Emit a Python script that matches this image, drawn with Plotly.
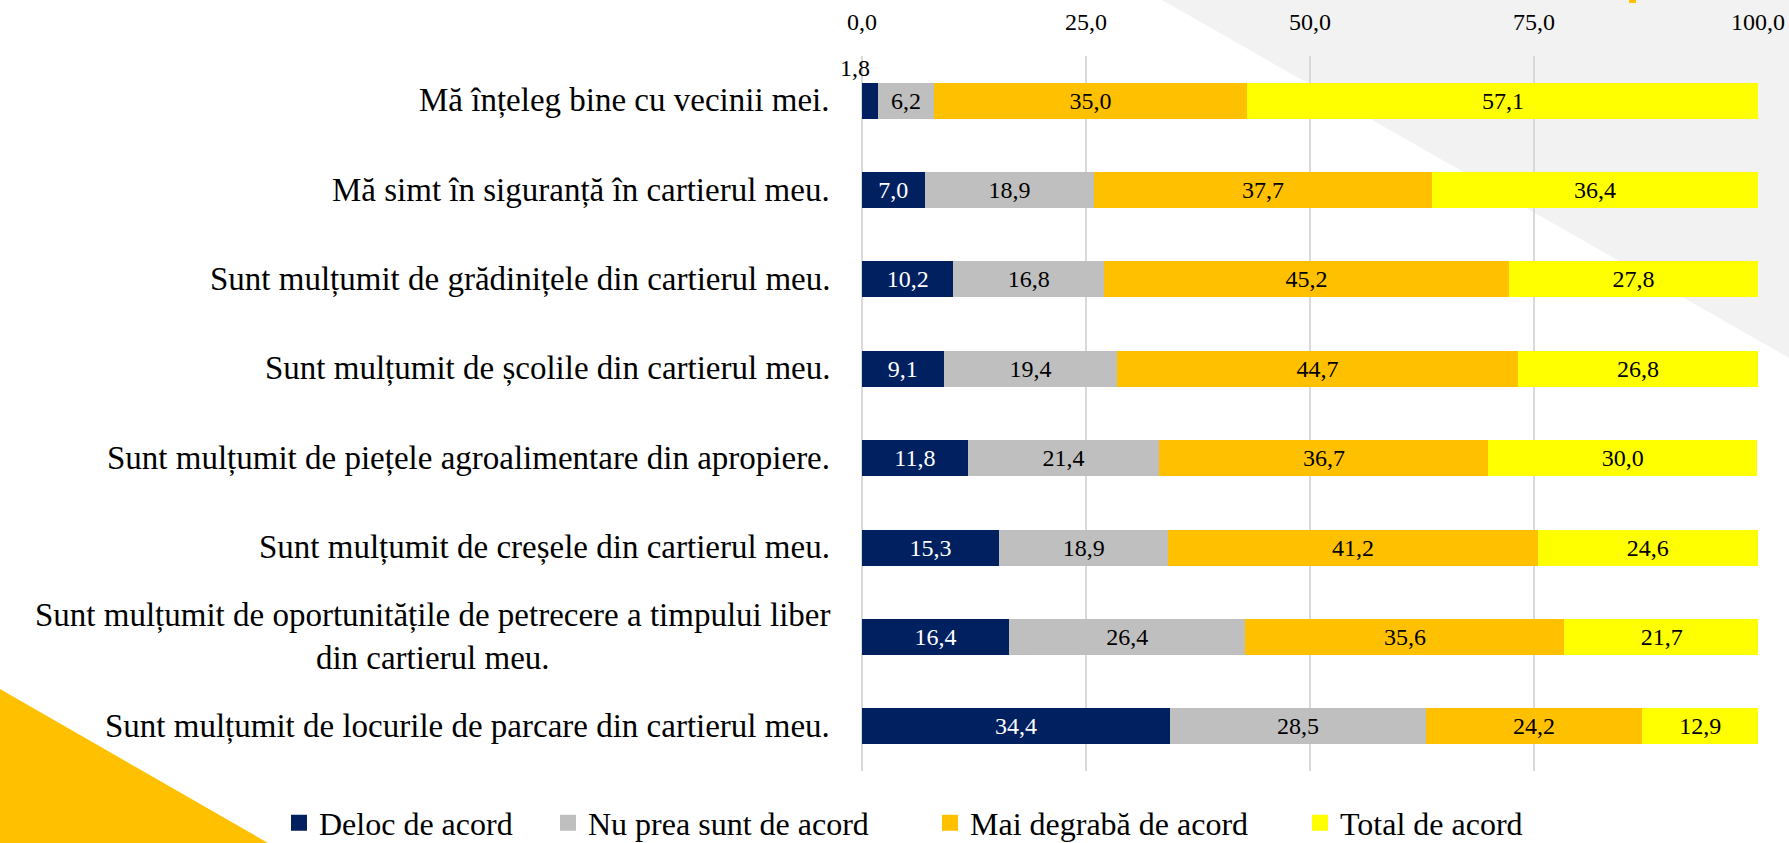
import plotly.graph_objects as go

categories = [
    "Mă înțeleg bine cu vecinii mei.",
    "Mă simt în siguranță în cartierul meu.",
    "Sunt mulțumit de grădinițele din cartierul meu.",
    "Sunt mulțumit de școlile din cartierul meu.",
    "Sunt mulțumit de piețele agroalimentare din apropiere.",
    "Sunt mulțumit de creșele din cartierul meu.",
    "Sunt mulțumit de oportunitățile de petrecere a timpului liber<br>din cartierul meu.",
    "Sunt mulțumit de locurile de parcare din cartierul meu.",
]
deloc = [1.8, 7.0, 10.2, 9.1, 11.8, 15.3, 16.4, 34.4]
nu_prea = [6.2, 18.9, 16.8, 19.4, 21.4, 18.9, 26.4, 28.5]
mai_degraba = [35.0, 37.7, 45.2, 44.7, 36.7, 41.2, 35.6, 24.2]
total = [57.1, 36.4, 27.8, 26.8, 30.0, 24.6, 21.7, 12.9]
series_names = ["Deloc de acord", "Nu prea sunt de acord", "Mai degrabă de acord", "Total de acord"]
x_ticks = [0, 25, 50, 75, 100]

series_values = [deloc, nu_prea, mai_degraba, total]
colors = ["#002060", "#BFBFBF", "#FFC000", "#FFFF00"]
text_colors = ["#FFFFFF", "#000000", "#000000", "#000000"]
FONT = "Liberation Serif"

W, H = 1789, 843
ML, MR, MT, MB = 862, 31, 56, 72
PW, PH = W - ML - MR, H - MT - MB


def fmt(v):
    return f"{v:.1f}".replace(".", ",")


def px_to_paper(x, y):
    return (x - ML) / PW, (H - MB - y) / PH


fig = go.Figure()

legend_keys = ["legend", "legend2", "legend3", "legend4"]
for i, (name, vals) in enumerate(zip(series_names, series_values)):
    texts = [fmt(v) if v >= 3 else "" for v in vals]
    fig.add_trace(go.Bar(
        y=categories, x=vals, orientation="h", name=name,
        marker=dict(color=colors[i], line=dict(width=0)),
        text=texts, textposition="inside", insidetextanchor="middle",
        textangle=0, constraintext="none",
        insidetextfont=dict(family=FONT, size=24, color=text_colors[i]),
        showlegend=False, hoverinfo="x+name",
    ))

# legend entries (one legend per series, to place them like the original)
legend_centers = [299, 568, 950, 1320]
for i, name in enumerate(series_names):
    fig.add_trace(go.Scatter(
        x=[None], y=[None], mode="markers", name=name,
        marker=dict(symbol="square", size=16, color=colors[i]),
        showlegend=True, legend=legend_keys[i],
    ))

# small value labels placed above the bar
for i, name in enumerate(series_names):
    for cat, v in zip(categories, series_values[i]):
        if v < 3:
            fig.add_annotation(
                x=v / 2, y=cat, text=fmt(v), showarrow=False,
                xshift=-15, yshift=33,
                font=dict(family=FONT, size=24, color="#000000"),
            )

# category labels (centered multi-line, right aligned block)
for cat in categories:
    fig.add_annotation(
        x=0, xref="paper", y=cat, yref="y", text=cat, showarrow=False,
        xanchor="right", align="center", xshift=-30,
        font=dict(family=FONT, size=33, color="#000000"),
    )

# decorative background shapes
gx0, gy0 = px_to_paper(1162, 0)
gx1, gy1 = px_to_paper(1789, 0)
gx2, gy2 = px_to_paper(1789, 358)
fig.add_shape(type="path", xref="paper", yref="paper", layer="below",
              path=f"M {gx0} {gy0} L {gx1} {gy1} L {gx2} {gy2} Z",
              fillcolor="#F2F2F2", line=dict(width=0))
tx0, ty0 = px_to_paper(0, 689)
tx1, ty1 = px_to_paper(268, 843)
tx2, ty2 = px_to_paper(0, 843)
fig.add_shape(type="path", xref="paper", yref="paper", layer="below",
              path=f"M {tx0} {ty0} L {tx1} {ty1} L {tx2} {ty2} Z",
              fillcolor="#FFC000", line=dict(width=0))
ox0, oy0 = px_to_paper(1629, 0)
ox1, oy1 = px_to_paper(1636, 3)
fig.add_shape(type="rect", xref="paper", yref="paper", layer="below",
              x0=ox0, y0=oy0, x1=ox1, y1=oy1,
              fillcolor="#FFC000", line=dict(width=0))

legend_layouts = {}
for i, key in enumerate(legend_keys):
    legend_layouts[key] = dict(
        x=(legend_centers[i] - 20) / W, xref="container", xanchor="left",
        y=(H - 823) / H, yref="container", yanchor="middle",
        orientation="h", bgcolor="rgba(0,0,0,0)", borderwidth=0,
        font=dict(family=FONT, size=32, color="#000000"),
    )

fig.update_layout(
    width=W, height=H, autosize=False,
    margin=dict(l=ML, r=MR, t=MT, b=MB, pad=0, autoexpand=False),
    barmode="stack", bargap=0.597,
    separators=", ",
    paper_bgcolor="#FFFFFF", plot_bgcolor="rgba(0,0,0,0)",
    font=dict(family=FONT, color="#000000"),
    xaxis=dict(
        side="top", range=[0, 100], tickvals=x_ticks, tickformat=".1f",
        showgrid=True, gridcolor="#D9D9D9", gridwidth=1.5,
        zeroline=True, zerolinecolor="#D9D9D9", zerolinewidth=1.5,
        showline=False, ticks="", ticklabelstandoff=20, automargin=False,
        tickfont=dict(family=FONT, size=24, color="#000000"),
        fixedrange=True,
    ),
    yaxis=dict(
        autorange="reversed", showticklabels=False, showgrid=False,
        zeroline=False, showline=False, ticks="", fixedrange=True,
        automargin=False,
    ),
    **legend_layouts,
)

fig.write_html("out.html", config={"displayModeBar": False},
               post_script="document.body.style.margin='0';")
